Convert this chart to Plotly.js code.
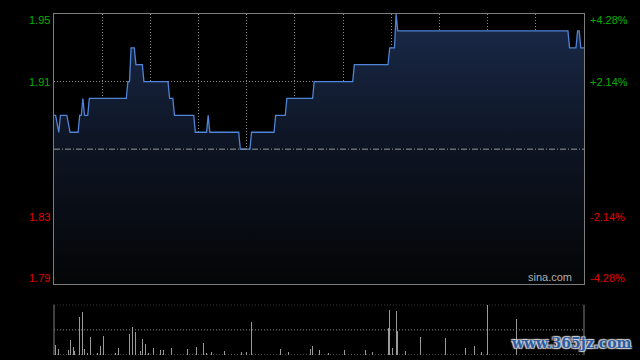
<!DOCTYPE html>
<html>
<head>
<meta charset="utf-8">
<script src="https://cdn.plot.ly/plotly-3.0.1.min.js"></script>
<style>
html,body{margin:0;padding:0;background:#000;}
#chart{width:640px;height:360px;}
</style>
</head>
<body>
<div id="chart"></div>
<script>
// ---- data (minutes since 09:30, HK session with lunch gap collapsed) ----
const prevClose = 1.87;
const sessionMinutes = 330;

const priceTimes = [0,1,3,4,8,10,15,16,17,18,19,21,22,45,46,47,48,50,51,55,56,71,72,74,75,87,88,95,96,97,115,116,122,123,137,138,144,145,161,162,186,187,208,209,212,213,214,320,321,325,326,327,328,330];
const prices = [1.89,1.89,1.88,1.89,1.89,1.88,1.88,1.89,1.89,1.90,1.89,1.89,1.90,1.90,1.91,1.91,1.93,1.93,1.92,1.92,1.91,1.91,1.90,1.90,1.89,1.89,1.88,1.88,1.89,1.88,1.88,1.87,1.87,1.88,1.88,1.89,1.89,1.90,1.90,1.91,1.91,1.92,1.92,1.93,1.93,1.95,1.94,1.94,1.93,1.93,1.94,1.94,1.93,1.93];

const volTimes = [1,3,9,10,12,13,16,18,19,21,23,27,29,31,38,40,47,49,51,54,55,57,59,62,66,68,73,83,89,93,95,98,106,117,120,123,141,146,160,161,165,171,181,194,198,208,209,211,213,214,219,228,244,256,262,266,270,288];
const volValues = [20,12,10,30,15,7,75,85,12,3,36,4,18,38,3,14,42,56,46,8,32,22,4,14,10,10,14,12,16,24,4,6,8,6,6,66,12,6,12,18,10,4,10,10,6,54,89,14,87,48,8,36,34,14,18,6,100,72];

const priceTicks = [1.95, 1.91, 1.83, 1.79];
const volTicks = [0, 50, 100];

// ---- build ----
const yMin = 1.79, yMax = 1.95;
const volMax = 100;
const green = '#00b000', red = '#e00000';
const dotted = '1px,2px';
const gridCol = '#8a8a8a';
const frameCol = '#7c7c7c';

const traces = [
  {
    type: 'scatter', mode: 'lines',
    x: priceTimes, y: prices,
    xaxis: 'x', yaxis: 'y',
    line: {color: '#4f84d6', width: 1.3, shape: 'linear'},
    fill: 'tozeroy',
    fillgradient: {
      type: 'vertical',
      start: yMin, stop: yMax,
      colorscale: [[0, '#040506'], [0.5, '#0d1422'], [1, '#1a2a4a']]
    },
    hoverinfo: 'skip'
  },
  {
    type: 'bar',
    x: volTimes, y: volValues,
    xaxis: 'x2', yaxis: 'y2',
    width: 0.62,
    marker: {color: '#9a9a9a', line: {width: 0}},
    hoverinfo: 'skip'
  }
];

const annotations = [];
priceTicks.forEach(v => {
  const col = v > prevClose ? green : red;
  const shift = v === yMax ? -6 : (v === yMin ? 6 : 0);
  const pct = (v / prevClose - 1) * 100;
  const pctText = (pct > 0 ? '+' : '') + pct.toFixed(2) + '%';
  annotations.push({
    xref: 'paper', yref: 'y', x: 0, y: v, xanchor: 'right', yanchor: 'middle',
    xshift: -2, yshift: shift, showarrow: false, text: v.toFixed(2),
    font: {family: 'Liberation Sans, Arial, sans-serif', size: 11, color: col}
  });
  annotations.push({
    xref: 'paper', yref: 'y', x: 1, y: v, xanchor: 'left', yanchor: 'middle',
    xshift: 4, yshift: shift, showarrow: false, text: pctText,
    font: {family: 'Liberation Sans, Arial, sans-serif', size: 11, color: col}
  });
});
annotations.push({
  xref: 'paper', yref: 'y', x: 1, y: yMin, xanchor: 'right', yanchor: 'bottom',
  xshift: -10, yshift: -1, showarrow: false, text: 'sina.com',
  font: {family: 'Liberation Sans, Arial, sans-serif', size: 11, color: '#b0b0b0'}
});
annotations.push({
  xref: 'paper', yref: 'paper', x: 1, y: 0, xanchor: 'right', yanchor: 'bottom',
  xshift: 50, yshift: 2, showarrow: false, text: '<b>www.365jz.com</b>',
  font: {family: 'DejaVu Serif, serif', size: 14, color: '#2a5da8',
         shadow: '1px 1px 1px #d0d0d0, -1px -1px 1px #d0d0d0, 1px -1px 1px #d0d0d0, -1px 1px 1px #d0d0d0'}
});

const shapes = [
  {type: 'line', xref: 'x', yref: 'y', x0: 0, x1: sessionMinutes, y0: prevClose, y1: prevClose,
   line: {color: '#9a9a9a', width: 1, dash: '6px,2px,1px,2px'}}
];
volTicks.forEach(v => {
  shapes.push({type: 'line', xref: 'paper', yref: 'y2', x0: 0, x1: 1, y0: v, y1: v,
    line: {color: gridCol, width: 1, dash: dotted}});
});
shapes.push({type: 'line', xref: 'paper', yref: 'y2 domain', x0: 0, x1: 0, y0: 0, y1: 1,
  line: {color: frameCol, width: 1}});
shapes.push({type: 'line', xref: 'paper', yref: 'y2 domain', x0: 1, x1: 1, y0: 0, y1: 1,
  line: {color: frameCol, width: 1}});

const layout = {
  width: 640, height: 360,
  paper_bgcolor: '#000', plot_bgcolor: '#000',
  margin: {l: 54, r: 56, t: 14, b: 5, pad: 0},
  showlegend: false,
  xaxis: {
    domain: [0, 1], range: [0, sessionMinutes], anchor: 'y',
    tick0: 0, dtick: 30, showgrid: true, griddash: dotted, gridcolor: gridCol, gridwidth: 1,
    showticklabels: false, ticks: '', zeroline: false,
    showline: true, mirror: true, linecolor: frameCol, linewidth: 1
  },
  yaxis: {
    domain: [0.2073, 1], range: [yMin, yMax], anchor: 'x',
    tickmode: 'array', tickvals: priceTicks, showgrid: true, griddash: dotted, gridcolor: gridCol,
    showticklabels: false, ticks: '', zeroline: false,
    showline: true, mirror: true, linecolor: frameCol, linewidth: 1
  },
  xaxis2: {
    domain: [0, 1], range: [0, sessionMinutes], anchor: 'y2',
    showgrid: false, showticklabels: false, ticks: '', zeroline: false, showline: false
  },
  yaxis2: {
    domain: [0, 0.1475], range: [0, volMax], anchor: 'x2',
    showgrid: false, showticklabels: false, ticks: '', zeroline: false, showline: false
  },
  shapes: shapes,
  annotations: annotations,
  bargap: 0
};

Plotly.newPlot('chart', traces, layout, {displayModeBar: false, staticPlot: true});
</script>
</body>
</html>
